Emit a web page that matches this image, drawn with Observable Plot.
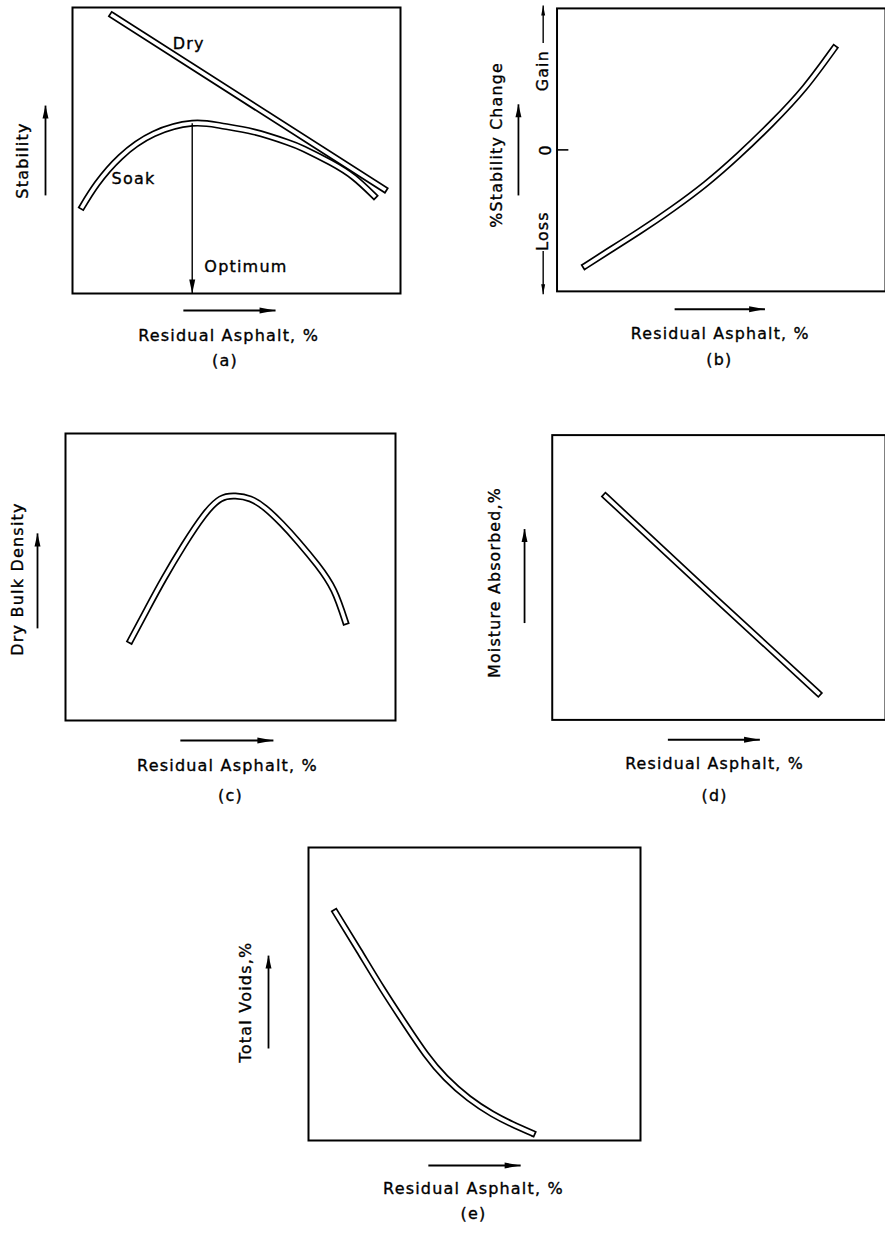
<!DOCTYPE html>
<html><head><meta charset="utf-8">
<script src="https://cdn.jsdelivr.net/npm/d3@7"></script>
<script src="https://cdn.jsdelivr.net/npm/@observablehq/plot@0.6"></script>
<style>
html,body{margin:0;padding:0;background:#fff;overflow:hidden;}
#root{position:relative;width:885px;height:1234px;overflow:hidden;background:#fff;}
.panel{position:absolute;}
.panel svg text{letter-spacing:1.2px;}
</style></head><body><div id="root"></div>
<script>
// ---------- data ----------
const xTitle = "Residual Asphalt, %";
const panelTags = ["(a)", "(b)", "(c)", "(d)", "(e)"];
const yTitles = ["Stability", "%Stability Change", "Dry Bulk Density", "Moisture Absorbed,%", "Total Voids,%"];

// (a) Stability vs residual asphalt (relative units, 0-100 of frame)
const aDryX = [12.2, 95.0];
const aDryY = [97.2, 36.5];
const aSoakX = [3.0, 7.5, 14.6, 24.8, 36.5, 45.1, 55.3, 65.5, 70.5, 78.7, 85.8, 91.9];
const aSoakY = [30.4, 38.4, 47.7, 55.8, 59.5, 58.7, 56.5, 52.9, 50.6, 45.8, 40.6, 34.2];
const aOptimum = {x: 36.5, y: 59.5};
const aNotes = ["Dry", "Soak", "Optimum"];

// (b) % stability change (loss < 0 < gain)
const bX = [8.6, 15.2, 25.2, 35.2, 45.3, 55.3, 65.4, 75.4, 84.4];
const bY = [-41.0, -36.1, -28.7, -20.8, -12.0, -1.9, 9.4, 22.0, 35.9];
const bTicks = [0];
const bSides = ["Gain", "Loss"];

// (c) dry bulk density
const cX = [19.7, 24.8, 29.8, 35.8, 41.9, 47.0, 51.5, 56.0, 60.5, 65.5, 70.5, 76.3, 81.3, 84.8];
const cY = [27.9, 38.9, 49.4, 61.0, 71.4, 77.2, 78.2, 77.2, 74.0, 68.6, 62.3, 54.2, 45.3, 34.5];

// (d) moisture absorbed
const dX = [16.0, 48.7, 79.8];
const dY = [78.5, 42.9, 9.4];

// (e) total voids
const eX = [8.1, 15.2, 22.2, 29.2, 35.3, 41.3, 48.3, 55.3, 61.3, 67.4];
const eY = [77.9, 64.8, 51.8, 39.6, 29.5, 21.4, 14.4, 9.1, 5.6, 2.5];

// ---------- helpers ----------
const FS = 16;
const TXT = {fontSize: FS, fill: "black", stroke: "black", strokeWidth: 0.35};
const pts = (xs, ys) => xs.map((x, i) => ({x, y: ys[i]}));
function tube(xs, ys) {
  const d = pts(xs, ys);
  return [
    Plot.line(d, {x: "x", y: "y", stroke: "black", strokeWidth: 7, curve: "natural", strokeLinecap: "square", strokeLinejoin: "round"}),
    Plot.line(d, {x: "x", y: "y", stroke: "white", strokeWidth: 3.6, curve: "natural", strokeLinecap: "square", strokeLinejoin: "round"})
  ];
}
function arrow(x1, y1, x2, y2, rot, o = {}) {
  const {dx = 0, dy = 0, sw = 1.6, len = 13, r = 3} = o;
  return [
    Plot.link([{x1, y1, x2, y2}], {x1: "x1", y1: "y1", x2: "x2", y2: "y2", stroke: "black", strokeWidth: sw, dx, dy}),
    Plot.vector([{x: x2, y: y2}], {x: "x", y: "y", rotate: rot, length: len, r, shape: "spike", anchor: "end", fill: "black", stroke: "none", dx, dy})
  ];
}
function panel(cfg) {
  const {left, top, width, height, margin, yDomain = [0, 100], idx, yT, xA, xT, tagX, extra} = cfg;
  const y0 = yDomain[0];
  const marks = [
    Plot.frame({stroke: "black", strokeWidth: 2}),
    ...extra,
    Plot.text([yTitles[idx]], {frameAnchor: "left", textAnchor: "middle", text: d => d, rotate: -90, dx: yT.dx, dy: yT.dy, ...TXT}),
    ...arrow(0, yT.a1, 0, yT.a2, 0, {dx: yT.adx, sw: 1.8}),
    ...arrow(xA[0], y0, xA[1], y0, 90, {dy: xA[2], sw: 2, len: 16, r: 3}),
    Plot.text([xTitle], {x: () => xT[0], y: () => y0, text: d => d, dy: xT[1], ...TXT}),
    Plot.text([panelTags[idx]], {x: () => tagX[0], y: () => y0, text: d => d, dy: tagX[1], ...TXT})
  ];
  const svg = Plot.plot({
    width, height,
    marginTop: margin[0], marginRight: margin[1], marginBottom: margin[2], marginLeft: margin[3],
    x: {domain: [0, 100], axis: null},
    y: {domain: yDomain, axis: null},
    style: {background: "transparent", fontFamily: "DejaVu Sans, sans-serif", overflow: "visible", color: "black"},
    marks
  });
  const div = document.createElement("div");
  div.className = "panel";
  div.style.left = left + "px";
  div.style.top = top + "px";
  div.appendChild(svg);
  document.getElementById("root").appendChild(div);
}

// (a)
panel({
  idx: 0, left: 0, top: 0, width: 420, height: 380, margin: [7, 20, 87, 72],
  yT: {dx: -50, dy: 10, adx: -27, a1: 34.3, a2: 65.7},
  xA: [33.8, 61.9, 17], xT: [47.6, 42], tagX: [46.5, 67],
  extra: [
    ...tube(aDryX, aDryY),
    ...tube(aSoakX, aSoakY),
    ...arrow(aOptimum.x, aOptimum.y, aOptimum.x, 0, 180, {sw: 1.4, len: 14, r: 3}),
    Plot.text([aNotes[0]], {x: () => 35.4, y: () => 87.4, text: d => d, ...TXT}),
    Plot.text([aNotes[1]], {x: () => 18.6, y: () => 40.2, text: d => d, ...TXT}),
    Plot.text([aNotes[2]], {x: () => 40.2, y: () => 9.4, text: d => d, textAnchor: "start", ...TXT})
  ]
});

// (b)
panel({
  idx: 1, left: 420, top: 0, width: 470, height: 380, margin: [8, 0, 86, 138], yDomain: [-50, 50],
  yT: {dx: -61, dy: -5, adx: -39, a1: -16.1, a2: 16.1},
  xA: [35.8, 63.3, 18], xT: [49.7, 43], tagX: [49.4, 69],
  extra: [
    ...tube(bX, bY),
    Plot.ruleY(bTicks, {x1: 0, x2: 3.6, stroke: "black", strokeWidth: 1.6}),
    Plot.text(bTicks, {x: () => 0, y: d => d, text: d => String(d), rotate: -90, dx: -11, ...TXT}),
    Plot.text([bSides[0]], {x: () => 0, y: () => 28, text: d => d, rotate: -90, dx: -14, ...TXT}),
    Plot.text([bSides[1]], {x: () => 0, y: () => -28.7, text: d => d, rotate: -90, dx: -14, ...TXT}),
    ...arrow(0, 37.8, 0, 51, 0, {dx: -14, sw: 1.4, len: 10, r: 2}),
    ...arrow(0, -35.7, 0, -51, 180, {dx: -14, sw: 1.4, len: 10, r: 2})
  ]
});

// (c)
panel({
  idx: 2, left: 0, top: 400, width: 440, height: 410, margin: [33, 45, 90, 65],
  yT: {dx: -48, dy: 2, adx: -28, a1: 32.1, a2: 65.2},
  xA: [34.8, 63.0, 20], xT: [49.1, 45], tagX: [50, 75],
  extra: [...tube(cX, cY)]
});

// (d)
panel({
  idx: 3, left: 440, top: 400, width: 450, height: 410, margin: [35, 0, 87, 113],
  yT: {dx: -58, dy: 5, adx: -28, a1: 34.0, a2: 67.0},
  xA: [34.7, 62.3, 20], xT: [48.7, 45], tagX: [48.7, 77],
  extra: [...tube(dX, dY)]
});

// (e)
panel({
  idx: 4, left: 220, top: 800, width: 440, height: 434, margin: [47, 20, 94, 88],
  yT: {dx: -63, dy: 8, adx: -40, a1: 31.4, a2: 63.1},
  xA: [36.1, 63.9, 25], xT: [49.7, 48], tagX: [49.7, 73],
  extra: [...tube(eX, eY)]
});
</script>
</body></html>
